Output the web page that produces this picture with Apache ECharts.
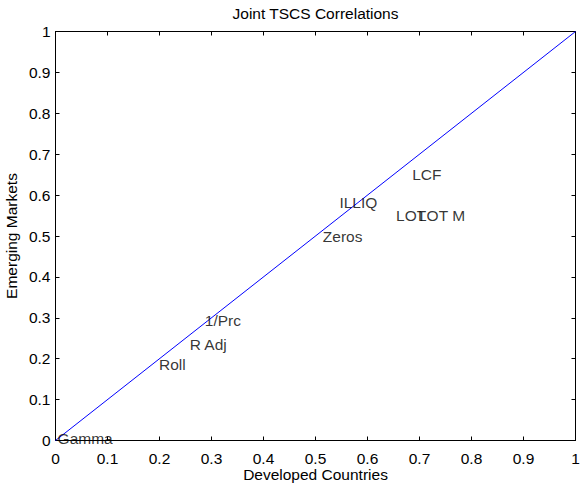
<!DOCTYPE html>
<html>
<head>
<meta charset="utf-8">
<script src="https://cdn.jsdelivr.net/npm/echarts@6/dist/echarts.min.js"></script>
<style>
html,body{margin:0;padding:0;background:#fff;}
#chart{width:580px;height:483px;}
</style>
</head>
<body>
<div id="chart"></div>
<script>
// Data
const labelNames = ['Gamma', 'Roll', 'R Adj', '1/Prc', 'Zeros', 'ILLIQ', 'LOT', 'LOT M', 'LCF'];
const developedCountries = [0.005, 0.200, 0.259, 0.288, 0.515, 0.547, 0.656, 0.698, 0.687];
const emergingMarkets   = [0.004, 0.185, 0.234, 0.293, 0.497, 0.580, 0.549, 0.549, 0.649];
const diagonalX = [0, 1];
const diagonalY = [0, 1];
const tickValues = [0, 0.1, 0.2, 0.3, 0.4, 0.5, 0.6, 0.7, 0.8, 0.9, 1];
const tickLabels = ['0', '0.1', '0.2', '0.3', '0.4', '0.5', '0.6', '0.7', '0.8', '0.9', '1'];

const FONT = 'Liberation Sans';
const FS = 15.5;

function tickFmt(v) {
  const i = tickValues.findIndex(t => Math.abs(t - v) < 1e-9);
  return i >= 0 ? tickLabels[i] : '';
}

const labelPoints = labelNames.map((n, i) => ({ name: n, value: [developedCountries[i], emergingMarkets[i]] }));
const linePoints = diagonalX.map((x, i) => [x, diagonalY[i]]);

const axisCommon = {
  type: 'value', min: 0, max: 1, interval: 0.1,
  splitLine: { show: false },
  axisLine: { show: true, onZero: false, lineStyle: { color: '#000', width: 1 } },
  axisTick: { show: true, inside: true, length: 4, lineStyle: { color: '#000', width: 1 } },
};

const chart = echarts.init(document.getElementById('chart'), null, { renderer: 'svg' });
chart.setOption({
  animation: false,
  backgroundColor: '#fff',
  textStyle: { fontFamily: FONT },
  title: {
    text: 'Joint TSCS Correlations',
    left: 315.5, top: 5, padding: 0, textAlign: 'center',
    textStyle: { fontFamily: FONT, fontSize: FS, fontWeight: 'normal', color: '#000' }
  },
  grid: { left: 55.5, right: 4.5, top: 31.5, bottom: 42.5, containLabel: false, outerBoundsMode: 'none' },
  xAxis: [
    Object.assign({}, axisCommon, {
      position: 'bottom',
      name: 'Developed Countries', nameLocation: 'middle', nameGap: 26, nameMoveOverlap: false,
      nameTextStyle: { fontFamily: FONT, fontSize: FS, color: '#000' },
      axisLabel: { formatter: tickFmt, margin: 10, fontFamily: FONT, fontSize: FS, color: '#000' }
    }),
    Object.assign({}, axisCommon, { position: 'top', axisLabel: { show: false } })
  ],
  yAxis: [
    Object.assign({}, axisCommon, {
      position: 'left',
      name: 'Emerging Markets', nameLocation: 'middle', nameGap: 36, nameMoveOverlap: false,
      nameTextStyle: { fontFamily: FONT, fontSize: FS, color: '#000' },
      axisLabel: { formatter: tickFmt, margin: 5, fontFamily: FONT, fontSize: FS, color: '#000' }
    }),
    Object.assign({}, axisCommon, { position: 'right', axisLabel: { show: false } })
  ],
  series: [
    {
      type: 'line',
      data: linePoints,
      showSymbol: false,
      symbol: 'none',
      lineStyle: { color: '#0000ff', width: 1 },
      silent: true,
      z: 2
    },
    {
      type: 'scatter',
      data: labelPoints,
      symbolSize: 1,
      itemStyle: { color: 'rgba(0,0,0,0)' },
      label: {
        show: true,
        formatter: p => p.name,
        position: [0, 0],
        align: 'left',
        verticalAlign: 'middle',
        fontFamily: FONT,
        fontSize: FS,
        color: '#000'
      },
      z: 3
    }
  ]
});
</script>
</body>
</html>
